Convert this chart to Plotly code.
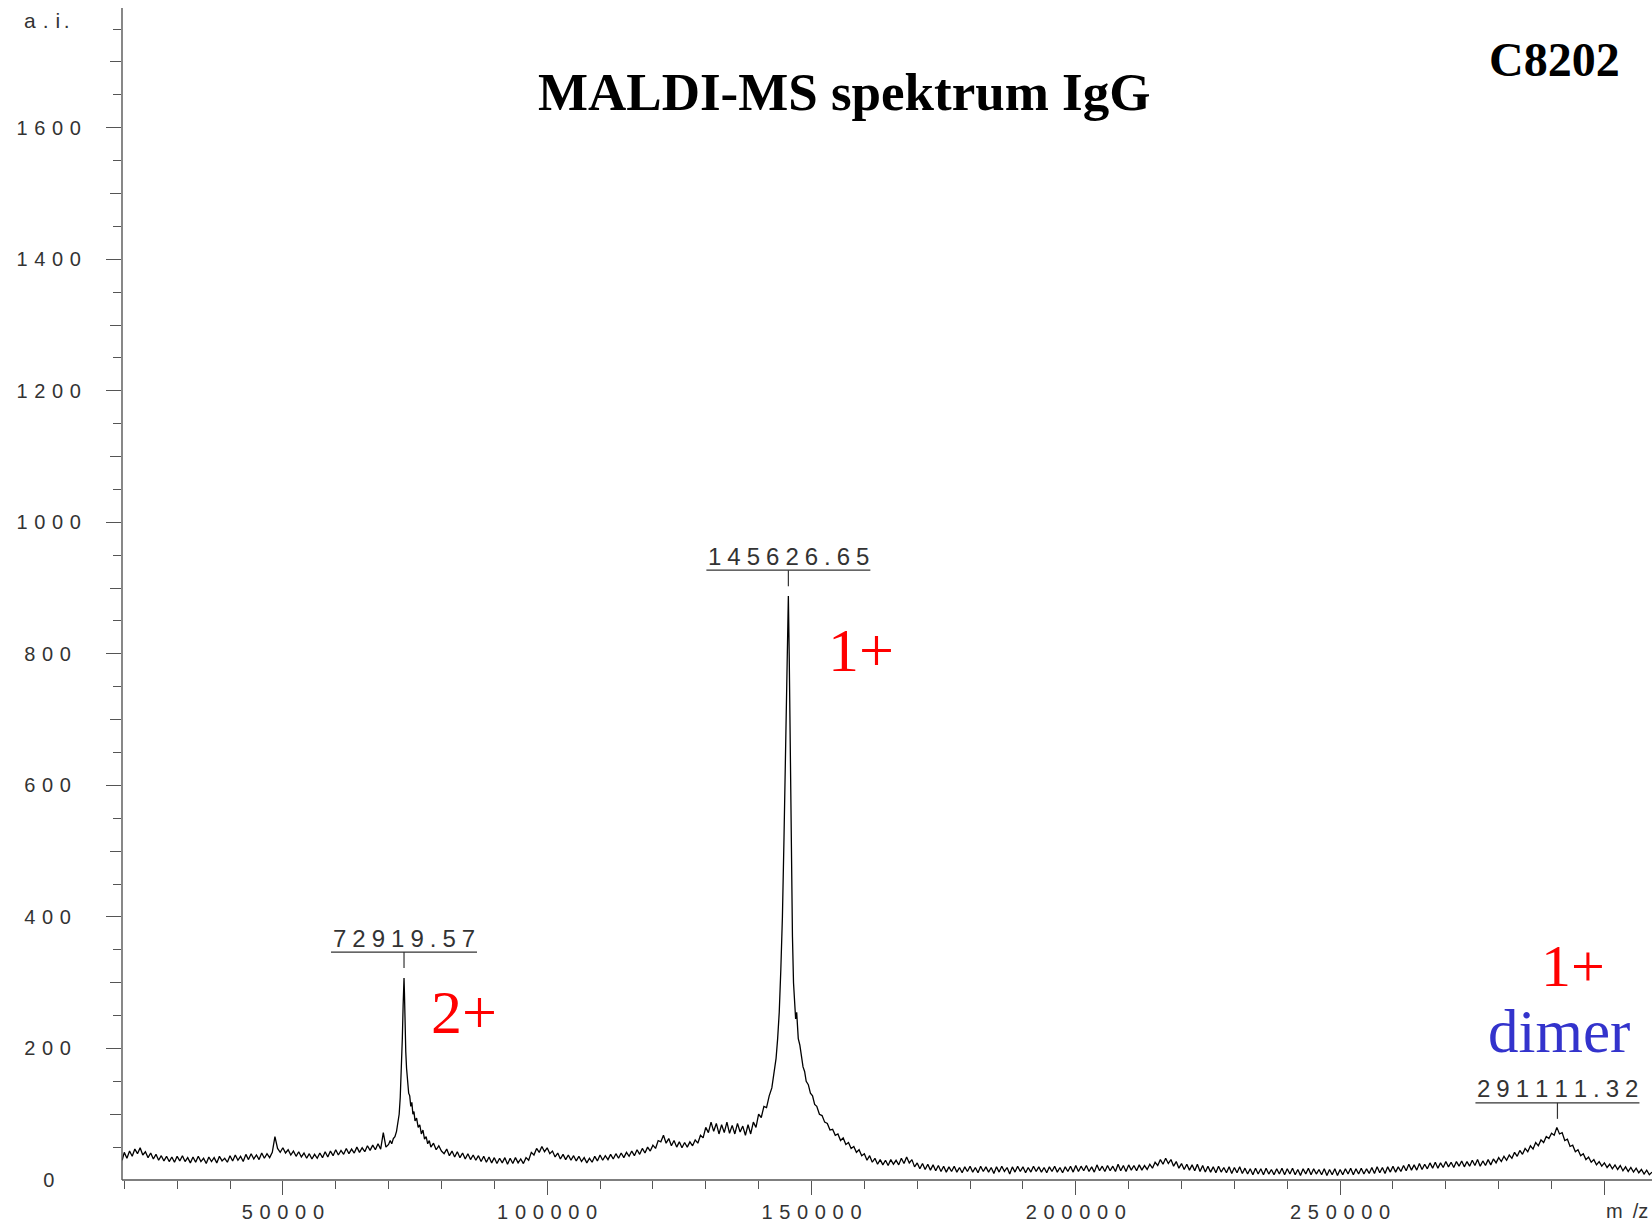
import plotly.graph_objects as go
import numpy as np

# ---------------- data ----------------
# segment A : baseline before the 2+ peak (m/z grid of 500 Da)
mz_a = [19600] + list(range(20000, 70000, 500))
int_a = [30, 42, 33, 44, 36, 47, 40, 49, 38, 43,
         34, 41, 32, 39, 30, 37, 29, 36, 28, 35,
         27, 36, 29, 37, 28, 34, 26, 35, 27, 36,
         28, 33, 25, 35, 28, 34, 26, 36, 29, 33,
         27, 37, 29, 38, 30, 36, 28, 39, 31, 40,
         32, 38, 31, 41, 33, 40, 34, 42, 66, 48,
         42, 49, 41, 46, 38, 44, 36, 43, 35, 41,
         33, 40, 32, 39, 33, 41, 34, 43, 35, 44,
         37, 46, 38, 45, 39, 48, 40, 47, 41, 50,
         42, 49, 43, 52, 45, 53, 46, 55, 47, 72, 50]

# segment B : doubly charged IgG peak
mz_b = [70000, 70300, 70600, 70900, 71200, 71500, 71800, 72000, 72200, 72400,
        72600, 72750, 72850, 72920, 73000, 73100, 73250, 73400, 73600, 73800,
        74000, 74200, 74400, 74600, 74800, 75000, 75300, 75600, 75900, 76200,
        76500, 76800, 77100, 77400, 77700, 78000, 78500, 79000, 79500, 80000]
int_b = [54, 60, 55, 63, 66, 74, 92, 100, 125, 160,
         215, 265, 300, 307, 285, 240, 195, 170, 150, 132,
         128, 112, 118, 100, 104, 90, 94, 80, 84, 70,
         76, 62, 66, 55, 60, 50, 56, 46, 52, 44]

# segment C : between 2+ and 1+ peaks (500 Da grid)
mz_c = list(range(80500, 140000, 500))
int_c = [40, 47, 37, 44, 35, 43, 34, 41, 32, 40,
         31, 38, 30, 37, 28, 36, 27, 35, 26, 34,
         25, 33, 26, 34, 24, 33, 25, 34, 26, 32,
         25, 34, 30, 42, 38, 48, 42, 51, 43, 49,
         40, 44, 35, 41, 32, 39, 31, 38, 30, 37,
         29, 36, 28, 34, 26, 33, 27, 36, 29, 38,
         30, 37, 31, 39, 32, 40, 33, 41, 34, 42,
         36, 44, 37, 46, 39, 48, 41, 50, 44, 53,
         48, 60, 58, 68, 56, 63, 52, 60, 50, 58,
         49, 57, 50, 58, 52, 61, 56, 68, 64, 80,
         72, 88, 74, 86, 70, 84, 72, 88, 71, 83,
         70, 86, 73, 82, 68, 84, 70, 88, 80]

# segment D : singly charged IgG peak
mz_d = [140000, 140500, 141000, 141500, 142000, 142500, 143000, 143300, 143600, 143900,
        144200, 144500, 144800, 145000, 145200, 145400, 145626, 145800, 146000, 146200,
        146400, 146600, 146800, 147000, 147200, 147500, 147800, 148100, 148400, 148700,
        149000, 149400, 149800, 150200, 150600, 151000, 151500, 152000, 152500, 153000,
        153500, 154000, 154500, 155000, 155500, 156000, 156500, 157000, 157500, 158000,
        158500, 159000, 159500, 160000]
int_d = [100, 95, 112, 110, 128, 140, 165, 185, 215, 255,
         320, 400, 520, 620, 740, 840, 888, 790, 620, 470,
         370, 300, 265, 245, 255, 215, 205, 190, 172, 165,
         150, 145, 132, 128, 115, 112, 100, 98, 88, 86,
         76, 77, 68, 70, 60, 64, 54, 57, 48, 51,
         42, 46, 37, 40]

# segment E : high-mass region incl. the dimer (500 Da grid)
mz_e = list(range(160500, 309001, 500))
int_e = [30, 37, 27, 33, 24, 31, 23, 30, 22, 31,
         24, 30, 23, 33, 25, 35, 26, 31, 20, 26,
         17, 25, 16, 24, 15, 23, 14, 22, 13, 21,
         12, 20, 13, 21, 12, 19, 11, 20, 13, 21,
         12, 19, 11, 21, 13, 20, 12, 19, 10, 20,
         12, 21, 13, 19, 9, 20, 12, 21, 13, 20,
         11, 19, 12, 21, 13, 20, 12, 19, 11, 20,
         13, 21, 12, 19, 11, 20, 13, 21, 12, 22,
         13, 21, 14, 22, 13, 20, 12, 23, 14, 21,
         13, 22, 14, 21, 13, 24, 14, 22, 13, 23,
         15, 22, 14, 23, 15, 22, 16, 24, 18, 27,
         22, 31, 24, 33, 25, 31, 21, 28, 18, 25,
         16, 24, 15, 23, 14, 24, 13, 22, 12, 21,
         12, 20, 11, 21, 12, 19, 11, 20, 10, 19,
         11, 20, 10, 18, 9, 17, 8, 18, 9, 17,
         8, 18, 9, 16, 8, 17, 9, 18, 8, 17,
         9, 18, 8, 16, 7, 17, 9, 18, 8, 17,
         9, 16, 8, 17, 7, 16, 8, 17, 7, 16,
         8, 17, 9, 18, 8, 17, 9, 18, 9, 17,
         10, 19, 10, 20, 11, 19, 10, 20, 12, 21,
         12, 20, 13, 22, 14, 24, 15, 23, 15, 25,
         16, 24, 17, 26, 18, 27, 18, 26, 19, 28,
         20, 27, 19, 28, 21, 29, 20, 28, 21, 30,
         22, 31, 21, 29, 22, 31, 23, 32, 26, 34,
         28, 36, 30, 38, 33, 42, 36, 45, 39, 48,
         43, 52, 47, 57, 52, 61, 57, 66, 63, 71,
         68, 80, 70, 72, 60, 62, 51, 53, 43, 46,
         37, 40, 31, 35, 27, 31, 23, 28, 21, 26,
         19, 24, 17, 23, 16, 22, 14, 20, 13, 19,
         12, 18, 11, 16, 9, 15, 8, 12]

peak_mz = [72919.57, 145626.65, 291111.32]
peak_text = ["72919.57", "145626.65", "291111.32"]
charge_text = ["2+", "1+", "1+"]
dimer_text = "dimer"

x_tick_vals = [50000, 100000, 150000, 200000, 250000, 300000]
x_tick_labels = ["50000", "100000", "150000", "200000", "250000", ""]
y_tick_vals = [200, 400, 600, 800, 1000, 1200, 1400, 1600]
y_tick_labels = ["200", "400", "600", "800", "1000", "1200", "1400", "1600"]
y_zero_label = "0"
y_mid_ticks = [100, 300, 500, 700, 900, 1100, 1300, 1500, 1700]
y_minor_ticks = list(range(50, 1800, 50))

title_text = "MALDI-MS spektrum IgG"
sample_text = "C8202"
y_title = "a.i."
x_title = "m /z"

for a, b in [(mz_a, int_a), (mz_b, int_b), (mz_c, int_c), (mz_d, int_d), (mz_e, int_e)]:
    assert len(a) == len(b), (len(a), len(b))

mz = mz_a + mz_b + mz_c + mz_d + mz_e
inten = int_a + int_b + int_c + int_d + int_e

# ---------------- figure ----------------
AX = "#555555"
TXT = "#333333"
SP = "\u2004"
SP_PEAK = "\u2005"
X_RANGE = [19570, 309000]
Y_RANGE = [0, 1782]

fig = go.Figure()
fig.add_trace(go.Scatter(x=mz, y=inten, mode="lines",
                         line=dict(color="black", width=1.3),
                         hoverinfo="skip", showlegend=False))
for ax_name in ("y2", "y3"):
    fig.add_trace(go.Scatter(x=[mz[0]], y=[0], yaxis=ax_name, mode="markers",
                             marker=dict(opacity=0), hoverinfo="skip", showlegend=False))


def spaced(s, sp=SP):
    return sp.join(s)


def ypad(s):
    pads = {1: "\u2003\u2004", 2: "\u2003", 3: "\u2002", 4: ""}
    return spaced(s) + pads.get(len(s), "")


tickfont = dict(family="Liberation Sans", size=20, color=TXT)

fig.update_layout(
    width=1652, height=1223,
    margin=dict(l=122, r=0, t=8, b=41, pad=0),
    paper_bgcolor="white", plot_bgcolor="white",
    showlegend=False,
    xaxis=dict(range=X_RANGE, showline=False,
               ticks="outside", ticklen=14, tickwidth=1.3, tickcolor=AX,
               tickvals=x_tick_vals, ticktext=[spaced(t) for t in x_tick_labels],
               tickfont=tickfont, showgrid=False, zeroline=False,
               minor=dict(dtick=10000, tick0=0, ticks="outside", ticklen=8,
                          tickwidth=1.3, tickcolor=AX, showgrid=False)),
    yaxis=dict(range=Y_RANGE, showline=False,
               ticks="outside", ticklen=15, tickwidth=1.3, tickcolor=AX,
               tickvals=y_tick_vals, ticktext=[ypad(t) for t in y_tick_labels],
               tickfont=tickfont, ticklabelstandoff=21,
               showgrid=False, zeroline=False,
               minor=dict(tickvals=y_minor_ticks, ticks="outside", ticklen=8,
                          tickwidth=1.3, tickcolor=AX, showgrid=False)),
    yaxis2=dict(range=Y_RANGE, overlaying="y", side="left", showline=False,
                ticks="outside", ticklen=11, tickwidth=1.3, tickcolor=AX,
                tickvals=y_mid_ticks, showticklabels=False,
                showgrid=False, zeroline=False),
    yaxis3=dict(range=Y_RANGE, overlaying="y", side="left", showline=False,
                ticks="outside", ticklen=15, tickwidth=1.3,
                tickcolor="rgba(0,0,0,0)",
                tickvals=[0], ticktext=[ypad(y_zero_label)],
                tickfont=tickfont, ticklabelstandoff=21,
                showgrid=False, zeroline=False),
)

shapes = [
    # axis lines meeting at the origin corner
    dict(type="line", xref="paper", yref="paper", x0=0, x1=1, y0=0, y1=0,
         line=dict(color=AX, width=1.4)),
    dict(type="line", xref="paper", yref="paper", x0=0, x1=0, y0=0, y1=1,
         line=dict(color=AX, width=1.4)),
]

ann = []
ann.append(dict(xref="paper", yref="paper", x=0.4716, y=0.9281,
                text="<b>" + title_text + "</b>", showarrow=False,
                xanchor="center", yanchor="middle",
                font=dict(family="Liberation Serif", size=53, color="black")))
ann.append(dict(xref="paper", yref="paper", x=0.9366, y=0.9559,
                text="<b>" + sample_text + "</b>", showarrow=False,
                xanchor="center", yanchor="middle",
                font=dict(family="Liberation Serif", size=48, color="black")))
ann.append(dict(xref="paper", yref="paper", x=-0.0654, y=0.9891,
                text="a\u2004.\u2004i\u2006.", showarrow=False,
                xanchor="left", yanchor="middle",
                font=dict(family="Liberation Sans", size=21, color=TXT)))
ann.append(dict(xref="paper", yref="paper", x=1, y=-0.0267, xshift=-2,
                text="m\u2002/z", showarrow=False, xanchor="right", yanchor="middle",
                font=dict(family="Liberation Sans", size=20, color=TXT)))

half_w = {8: 73, 9: 82}
peak_vals = [float(np.interp(p, mz, inten)) for p in peak_mz]
for p, v, t in zip(peak_mz, peak_vals, peak_text):
    ann.append(dict(xref="x", yref="y", x=p, y=v, yshift=40,
                    text=spaced(t, SP_PEAK), showarrow=False,
                    xanchor="center", yanchor="middle",
                    font=dict(family="Liberation Sans", size=24, color=TXT)))
    hw = half_w.get(len(t), 80)
    shapes.append(dict(type="line", xref="x", yref="y",
                       xsizemode="pixel", xanchor=p, x0=-hw, x1=hw,
                       ysizemode="pixel", yanchor=v, y0=26, y1=26,
                       line=dict(color=TXT, width=1.2)))
    shapes.append(dict(type="line", xref="x", yref="y",
                       xsizemode="pixel", xanchor=p, x0=0, x1=0,
                       ysizemode="pixel", yanchor=v, y0=10, y1=26,
                       line=dict(color=TXT, width=1.2)))

charge_shift = [(60, -34, 62), (73, -54, 62), (16, 163, 60)]
for p, v, t, (dx, dy, fs) in zip(peak_mz, peak_vals, charge_text, charge_shift):
    ann.append(dict(xref="x", yref="y", x=p, y=v, xshift=dx, yshift=dy,
                    text=t, showarrow=False, xanchor="center", yanchor="middle",
                    font=dict(family="Liberation Serif", size=fs, color="#FF0000")))
ann.append(dict(xref="x", yref="y", x=peak_mz[2], y=peak_vals[2], xshift=2, yshift=97,
                text=dimer_text, showarrow=False, xanchor="center", yanchor="middle",
                font=dict(family="Liberation Serif", size=61, color="#3333CC")))

fig.update_layout(annotations=ann, shapes=shapes)

fig.write_html("out.html", post_script="document.body.style.margin='0';")
